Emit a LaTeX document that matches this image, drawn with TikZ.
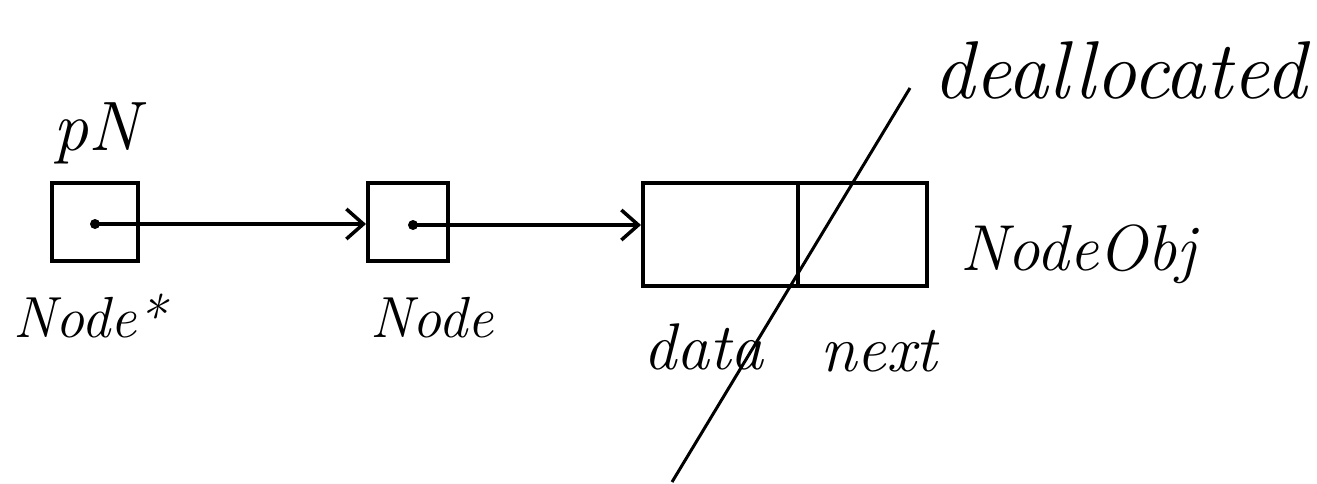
\documentclass[tikz,border=0pt]{standalone}
\usetikzlibrary{arrows.meta}
\tikzset{
  cell/.style={draw, line width=4pt, inner sep=0pt, minimum height=#1},
  ptrdot/.style={circle, fill, inner sep=0pt, minimum size=10pt},
  ptrarrow/.style={line width=3.5pt, -{Straight Barb[length=17pt,width=30pt,line width=3.5pt]}},
  handtext/.style={inner sep=0pt, font=\itshape},
  slash/.style={line width=3pt}
}
\begin{document}
\begin{tikzpicture}[x=1pt,y=-1pt]
\useasboundingbox (0,0) rectangle (1317,483);
% boxes
\node[cell=78pt, minimum width=86pt] (box1) at (95,222) {};
\node[cell=78pt, minimum width=80pt] (box2) at (408,222) {};
\node[cell=103pt, minimum width=155pt] (data) at (720.5,234.5) {};
\node[cell=103pt, minimum width=129pt] (next) at (862.5,234.5) {};
% pointer dots
\node[ptrdot] (dot1) at (95,224) {};
\node[ptrdot] (dot2) at (413,225) {};
% arrows
\draw[ptrarrow] (dot1.center) -- (box2.west |- dot1.center);
\draw[ptrarrow] (dot2.center) -- (data.west |- dot2.center);
% labels
\node[handtext, anchor=base west, font=\itshape\fontsize{70}{80}\selectfont] (lpN) at (53,150) {pN};
\node[handtext, anchor=base west, font=\itshape\fontsize{58}{66}\selectfont] (lNodeStar) at (13,337) {Node*};
\node[handtext, anchor=base west, font=\itshape\fontsize{58}{66}\selectfont] (lNode) at (370,337) {Node};
\node[handtext, anchor=base west, font=\itshape\fontsize{66}{76}\selectfont] (ldata) at (643,369) {data};
\node[handtext, anchor=base west, font=\itshape\fontsize{66}{76}\selectfont] (lnext) at (820,371) {next};
\node[handtext, anchor=base west, font=\itshape\fontsize{65}{74}\selectfont] (lobj) at (960,270) {NodeObj};
\node[handtext, anchor=base west, font=\itshape\fontsize{82}{92}\selectfont] (ldealloc) at (933,98) {deallocated};
% strike-through line
\coordinate (s1) at (910,88);
\coordinate (s2) at (672,482);
\draw[slash] (s1) -- (s2);
\end{tikzpicture}
\end{document}
